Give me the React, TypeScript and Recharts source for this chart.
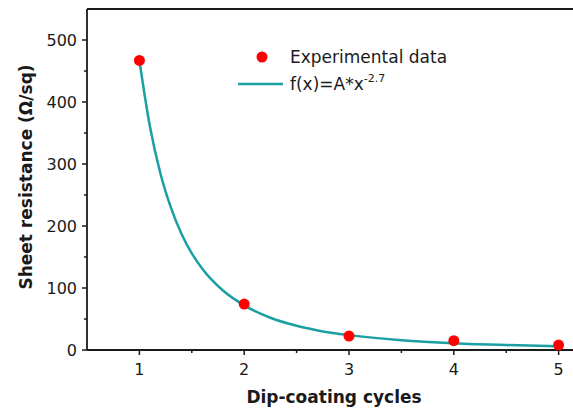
import React from "react";
import {
  ComposedChart,
  Legend,
  Line,
  Scatter,
  XAxis,
  YAxis
} from "recharts";

// measured sheet resistance per dip-coating cycle
const cycles = [1, 2, 3, 4, 5];
const resistance = [467, 74, 22.5, 15, 8];

// fitted curve f(x)=A*x^-2.7
const fitX = [1, 1.1, 1.2, 1.3, 1.4, 1.5, 1.6, 1.8, 2, 2.25, 2.5, 2.75, 3, 3.5, 4, 4.5, 5];
const fitY = [467, 361, 285, 230, 188, 156, 131, 95.5, 72, 52, 39, 30, 24, 15.9, 11, 8, 6];

const xTicks = [1, 1.5, 2, 2.5, 3, 3.5, 4, 4.5, 5];
const yTicks = [0, 50, 100, 150, 200, 250, 300, 350, 400, 450, 500];
const topTicks = [1, 1.5, 2, 2.5, 3, 3.5, 4, 4.5, 5, 5.5];

const expData = cycles.map((x, i) => ({ x, y: resistance[i] }));
const fitData = fitX.map((x, i) => ({ x, y: fitY[i] }));

const FONT = "'DejaVu Sans', sans-serif";
const RED = "#ff0000";
const TEAL = "#1a9fa3";
const INK = "#1a1a1a";

function BottomTick({ x, y, payload }: any) {
  const major = Number.isInteger(payload.value);
  return (
    <g>
      <line x1={x} x2={x} y1={y} y2={y + (major ? 5 : 3)} stroke={INK} strokeWidth={1.5} />
      {major && (
        <text x={x} y={y + 25} textAnchor="middle" fontSize={16} fontFamily={FONT} fill={INK}>
          {payload.value}
        </text>
      )}
    </g>
  );
}

function LeftTick({ x, y, payload }: any) {
  const major = payload.value % 100 === 0;
  return (
    <g>
      <line x1={x} x2={x - (major ? 5 : 3)} y1={y} y2={y} stroke={INK} strokeWidth={1.5} />
      {major && (
        <text x={x - 10} y={y + 6} textAnchor="end" fontSize={16} fontFamily={FONT} fill={INK}>
          {payload.value}
        </text>
      )}
    </g>
  );
}

function FitLegend() {
  return (
    <svg width={250} height={60} style={{ display: "block" }}>
      <circle cx={34} cy={17} r={5.5} fill={RED} />
      <text x={62} y={23} fontSize={17} fontFamily={FONT} fill={INK}>
        Experimental data
      </text>
      <line x1={10} x2={55} y1={44} y2={44} stroke={TEAL} strokeWidth={2.5} />
      <text x={62} y={50} fontSize={17} fontFamily={FONT} fill={INK}>
        f(x)=A*x
        <tspan fontSize={11} dy={-8}>-2.7</tspan>
      </text>
    </svg>
  );
}

export default function App() {
  return (
    <div
      style={{
        position: "fixed",
        left: 0,
        top: 0,
        width: 573,
        height: 414,
        overflow: "hidden",
        background: "#fff"
      }}
    >
      <ComposedChart width={611} height={414} margin={{ top: 9, right: 0, bottom: 0, left: 0 }}>
        <XAxis
          xAxisId="bottom"
          dataKey="x"
          type="number"
          domain={[0.5, 5.5]}
          ticks={xTicks}
          interval={0}
          height={64}
          tickSize={0}
          tickMargin={0}
          tickLine={false}
          tick={<BottomTick />}
          axisLine={{ stroke: INK, strokeWidth: 1.8 }}
          label={(props: any) => (
            <text x={334} y={403} textAnchor="middle" fontSize={17} fontWeight="bold" fontFamily={FONT} fill={INK}>
              Dip-coating cycles
            </text>
          )}
        />
        <XAxis
          xAxisId="top"
          orientation="top"
          type="number"
          domain={[0.5, 5.8]}
          ticks={topTicks}
          interval={0}
          height={1}
          mirror
          tick={false}
          tickSize={4}
          tickLine={{ stroke: INK, strokeWidth: 1.5 }}
          axisLine={{ stroke: INK, strokeWidth: 1.8 }}
        />
        <YAxis
          type="number"
          domain={[0, 550]}
          ticks={yTicks}
          interval={0}
          width={87}
          tickSize={0}
          tickMargin={0}
          tickLine={false}
          tick={<LeftTick />}
          axisLine={{ stroke: INK, strokeWidth: 1.8 }}
          label={(props: any) => (
            <text
              x={32}
              y={177}
              transform="rotate(-90 32 177)"
              textAnchor="middle"
              fontSize={17}
              fontWeight="bold"
              fontFamily={FONT}
              fill={INK}
            >
              Sheet resistance (Ω/sq)
            </text>
          )}
        />
        <Legend
          layout="horizontal"
          verticalAlign="middle"
          align="center"
          content={() => <FitLegend />}
          wrapperStyle={{ left: 228, top: 40, width: 250, height: 60 }}
        />
        <Scatter
          xAxisId="bottom"
          data={expData}
          dataKey="y"
          name="Experimental data"
          isAnimationActive={false}
          shape={(p: any) => <circle cx={p.cx} cy={p.cy} r={5.5} fill={RED} />}
        />
        <Line
          xAxisId="bottom"
          data={fitData}
          dataKey="y"
          type="monotone"
          stroke={TEAL}
          strokeWidth={2.5}
          dot={false}
          activeDot={false}
          isAnimationActive={false}
        />
      </ComposedChart>
    </div>
  );
}
